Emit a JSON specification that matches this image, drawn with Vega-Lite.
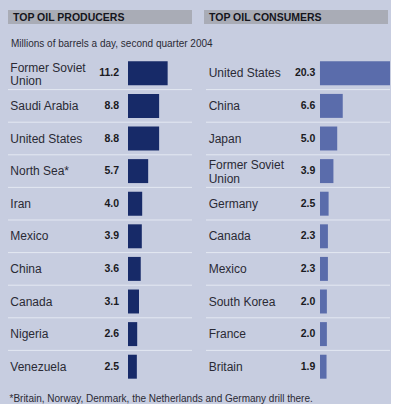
{
  "$schema": "https://vega.github.io/schema/vega-lite/v6.json",
  "background": "#c7cde0",
  "padding": {"left": 7, "top": 10, "right": 0, "bottom": 0},
  "config": {"view": {"stroke": null}, "font": "Liberation Sans"},
  "datasets": {
    "producers": [
      {"country": "Former Soviet\nUnion", "value": 11.2, "rank": 1},
      {"country": "Saudi Arabia", "value": 8.8, "rank": 2},
      {"country": "United States", "value": 8.8, "rank": 3},
      {"country": "North Sea*", "value": 5.7, "rank": 4},
      {"country": "Iran", "value": 4.0, "rank": 5},
      {"country": "Mexico", "value": 3.9, "rank": 6},
      {"country": "China", "value": 3.6, "rank": 7},
      {"country": "Canada", "value": 3.1, "rank": 8},
      {"country": "Nigeria", "value": 2.6, "rank": 9},
      {"country": "Venezuela", "value": 2.5, "rank": 10}
    ],
    "consumers": [
      {"country": "United States", "value": 20.3, "rank": 1},
      {"country": "China", "value": 6.6, "rank": 2},
      {"country": "Japan", "value": 5.0, "rank": 3},
      {"country": "Former Soviet\nUnion", "value": 3.9, "rank": 4},
      {"country": "Germany", "value": 2.5, "rank": 5},
      {"country": "Canada", "value": 2.3, "rank": 6},
      {"country": "Mexico", "value": 2.3, "rank": 7},
      {"country": "South Korea", "value": 2.0, "rank": 8},
      {"country": "France", "value": 2.0, "rank": 9},
      {"country": "Britain", "value": 1.9, "rank": 10}
    ]
  },
  "title": {
    "text": "*Britain, Norway, Denmark, the Netherlands and Germany drill there.",
    "orient": "bottom",
    "anchor": "start",
    "fontSize": 10,
    "fontWeight": "normal",
    "font": "Liberation Sans",
    "color": "#2a2a35",
    "offset": 11,
    "dx": 2
  },
  "spacing": 0,
  "vconcat": [
    {
      "spacing": 12,
      "hconcat": [
        {
          "width": 184, "height": 14,
          "view": {"fill": "#a9acb6", "stroke": null},
          "data": {"values": [{"t": "TOP OIL PRODUCERS"}]},
          "mark": {"type": "text", "align": "left", "baseline": "middle", "fontSize": 10.5, "fontWeight": "bold", "color": "#15151c", "dx": 5, "dy": 0.5},
          "encoding": {
            "text": {"field": "t"},
            "x": {"datum": 0, "type": "quantitative", "scale": {"domain": [0, 1]}, "axis": null}
          }
        },
        {
          "width": 184, "height": 14,
          "view": {"fill": "#a9acb6", "stroke": null},
          "data": {"values": [{"t": "TOP OIL CONSUMERS"}]},
          "mark": {"type": "text", "align": "left", "baseline": "middle", "fontSize": 10.5, "fontWeight": "bold", "color": "#15151c", "dx": 5, "dy": 0.5},
          "encoding": {
            "text": {"field": "t"},
            "x": {"datum": 0, "type": "quantitative", "scale": {"domain": [0, 1]}, "axis": null}
          }
        }
      ],
      "resolve": {"scale": {"x": "independent"}}
    },
    {
      "width": 184, "height": 33,
      "data": {"values": [{"t": "Millions of barrels a day, second quarter 2004"}]},
      "mark": {"type": "text", "align": "left", "baseline": "middle", "fontSize": 10, "color": "#2a2a35", "dx": 3, "dy": 3},
      "encoding": {
        "text": {"field": "t"},
        "x": {"datum": 0, "type": "quantitative", "scale": {"domain": [0, 1]}, "axis": null}
      }
    },
    {
      "spacing": 12,
      "resolve": {"scale": {"x": "independent", "y": "independent"}},
      "hconcat": [
        {
          "width": 184, "height": 326,
          "data": {"name": "producers"},
          "encoding": {
            "y": {"field": "rank", "type": "ordinal", "scale": {"paddingInner": 0, "paddingOuter": 0}, "axis": null}
          },
          "layer": [
            {
              "transform": [{"filter": "datum.rank > 1"}],
              "mark": {"type": "rule", "color": "#e4e8f2", "strokeWidth": 1},
              "encoding": {"y": {"field": "rank", "type": "ordinal", "bandPosition": 0}}
            },
            {
              "mark": {"type": "bar", "color": "#172a68", "height": {"band": 0.735}},
              "encoding": {
                "x": {"field": "value", "type": "quantitative", "scale": {"domain": [-33.9, 18.08], "nice": false, "zero": false}, "axis": null},
                "x2": {"datum": 0}
              }
            },
            {
              "transform": [{"filter": "indexof(datum.country, 'Soviet') < 0"}],
              "mark": {"type": "text", "align": "left", "baseline": "middle", "fontSize": 12, "color": "#2a2a35"},
              "encoding": {
                "x": {"datum": -33.25, "type": "quantitative"},
                "text": {"field": "country"}
              }
            },
            {
              "transform": [{"filter": "indexof(datum.country, 'Soviet') >= 0"}],
              "mark": {"type": "text", "align": "left", "baseline": "middle", "fontSize": 12, "color": "#2a2a35", "lineBreak": "\n", "lineHeight": 13.5, "dy": -5.75},
              "encoding": {
                "x": {"datum": -33.25, "type": "quantitative"},
                "text": {"field": "country"}
              }
            },
            {
              "mark": {"type": "text", "align": "right", "baseline": "middle", "fontSize": 10.5, "fontWeight": "bold", "color": "#1a1a22"},
              "encoding": {
                "x": {"datum": -2.54, "type": "quantitative"},
                "text": {"field": "value", "type": "quantitative", "format": ".1f"}
              }
            }
          ]
        },
        {
          "width": 184, "height": 326,
          "data": {"name": "consumers"},
          "encoding": {
            "y": {"field": "rank", "type": "ordinal", "scale": {"paddingInner": 0, "paddingOuter": 0}, "axis": null}
          },
          "layer": [
            {
              "transform": [{"filter": "datum.rank > 1"}],
              "mark": {"type": "rule", "color": "#e4e8f2", "strokeWidth": 1},
              "encoding": {"y": {"field": "rank", "type": "ordinal", "bandPosition": 0}}
            },
            {
              "mark": {"type": "bar", "color": "#5a6cab", "height": {"band": 0.735}},
              "encoding": {
                "x": {"field": "value", "type": "quantitative", "scale": {"domain": [-33.04, 20.3], "nice": false, "zero": false}, "axis": null},
                "x2": {"datum": 0}
              }
            },
            {
              "transform": [{"filter": "indexof(datum.country, 'Soviet') < 0"}],
              "mark": {"type": "text", "align": "left", "baseline": "middle", "fontSize": 12, "color": "#2a2a35"},
              "encoding": {
                "x": {"datum": -32.26, "type": "quantitative"},
                "text": {"field": "country"}
              }
            },
            {
              "transform": [{"filter": "indexof(datum.country, 'Soviet') >= 0"}],
              "mark": {"type": "text", "align": "left", "baseline": "middle", "fontSize": 12, "color": "#2a2a35", "lineBreak": "\n", "lineHeight": 13.5, "dy": -5.75},
              "encoding": {
                "x": {"datum": -32.26, "type": "quantitative"},
                "text": {"field": "country"}
              }
            },
            {
              "mark": {"type": "text", "align": "right", "baseline": "middle", "fontSize": 10.5, "fontWeight": "bold", "color": "#1a1a22"},
              "encoding": {
                "x": {"datum": -1.35, "type": "quantitative"},
                "text": {"field": "value", "type": "quantitative", "format": ".1f"}
              }
            }
          ]
        }
      ]
    }
  ]
}
